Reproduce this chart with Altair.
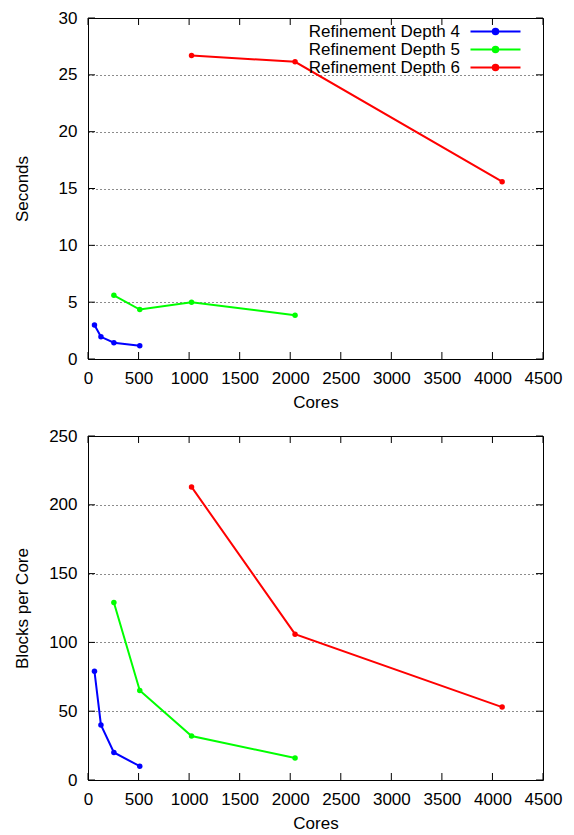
import altair as alt
import pandas as pd

series = ["Refinement Depth 4", "Refinement Depth 5", "Refinement Depth 6"]
colors = ["#0000ff", "#00ff00", "#ff0000"]

cores4 = [64, 128, 256, 512]
cores5 = [256, 512, 1024, 2048]
cores6 = [1024, 2048, 4096]

secs4 = [3.0, 1.95, 1.43, 1.16]
secs5 = [5.6, 4.35, 5.0, 3.85]
secs6 = [26.7, 26.15, 15.6]

blocks4 = [79, 40, 20, 10]
blocks5 = [129, 65, 32, 16]
blocks6 = [213, 106, 53]

x_ticks = list(range(0, 4501, 500))


def frame(cores_lists, vals_lists):
    rows = []
    for name, cs, vs in zip(series, cores_lists, vals_lists):
        for c, v in zip(cs, vs):
            rows.append({"Series": name, "Cores": c, "Value": v})
    return pd.DataFrame(rows)


FONT = "Liberation Sans"
FS = 17
TICK = 7
W = 455
SYMBOL = "M-1,0H9M3.45,0a0.55,0.55 0 1,0 1.1,0a0.55,0.55 0 1,0 -1.1,0"
NOTICK = dict(ticks=False, tickSize=0, domain=False)


def panel(df, ytitle, ymax, ystep, h):
    y_ticks = list(range(0, ymax + 1, ystep))
    xs = alt.Scale(domain=[0, 4500], nice=False, zero=False)
    ysc = alt.Scale(domain=[0, ymax], nice=False)
    cscale = alt.Scale(domain=series, range=colors)
    color = alt.Color(
        "Series:N",
        scale=cscale,
        legend=alt.Legend(
            title=None, orient="none", legendX=377, legendY=3,
            symbolType=SYMBOL, symbolSize=100, symbolStrokeWidth=2,
            labelAlign="right", labelOffset={"expr": "-24"}, labelFontSize=FS,
            labelFont=FONT, labelColor="black", rowPadding=0, padding=2,
        ),
    )
    xax = alt.Axis(
        values=x_ticks, format="d", title="Cores", grid=False,
        labelFontSize=FS, labelFont=FONT,
        labelColor="black", labelPadding=11, titleFontSize=FS, titleFont=FONT,
        titleFontWeight="normal", titleColor="black", titlePadding=8,
        labelFlush=False, labelOverlap=False, **NOTICK,
    )
    yax = alt.Axis(
        values=y_ticks, format="d", title=ytitle, grid=True, gridColor="black",
        gridDash=[1, 3], gridOpacity=0.9, labelFontSize=FS, labelFont=FONT,
        labelColor="black", labelPadding=11, titleFontSize=FS, titleFont=FONT,
        titleFontWeight="normal", titleColor="black", titlePadding=12,
        minExtent=45, maxExtent=45, labelFlush=False, labelOverlap=False,
        **NOTICK,
    )
    base = alt.Chart(df)
    lines = base.mark_line(strokeWidth=2).encode(
        x=alt.X("Cores:Q", scale=xs, axis=xax),
        y=alt.Y("Value:Q", scale=ysc, axis=yax),
        color=color,
        detail="Series:N",
    )
    pts = base.mark_point(filled=True, size=30, opacity=1).encode(
        x=alt.X("Cores:Q", scale=xs, axis=xax),
        y=alt.Y("Value:Q", scale=ysc, axis=yax),
        color=alt.Color("Series:N", scale=cscale, legend=None),
    )

    # gnuplot-style inward tick marks on all four sides of the frame
    xt = alt.Chart(pd.DataFrame({"t": x_ticks}))
    yt = alt.Chart(pd.DataFrame({"t": y_ticks}))
    tick_style = dict(size=TICK, thickness=1, color="black", opacity=1)
    xt_bottom = xt.mark_tick(orient="vertical", **tick_style).encode(
        x=alt.X("t:Q", scale=xs, axis=xax), y=alt.value(h - TICK / 2))
    xt_top = xt.mark_tick(orient="vertical", **tick_style).encode(
        x=alt.X("t:Q", scale=xs, axis=xax), y=alt.value(TICK / 2))
    yt_left = yt.mark_tick(orient="horizontal", **tick_style).encode(
        y=alt.Y("t:Q", scale=ysc, axis=yax), x=alt.value(TICK / 2))
    yt_right = yt.mark_tick(orient="horizontal", **tick_style).encode(
        y=alt.Y("t:Q", scale=ysc, axis=yax), x=alt.value(W - TICK / 2))

    return alt.layer(xt_bottom, xt_top, yt_left, yt_right, lines, pts).properties(
        width=W, height=h
    )


top = panel(frame([cores4, cores5, cores6], [secs4, secs5, secs6]), "Seconds", 30, 5, 341)
bottom = panel(frame([cores4, cores5, cores6], [blocks4, blocks5, blocks6]), "Blocks per Core", 250, 50, 344)

chart = alt.vconcat(top, bottom, spacing=15).properties(
    padding={"left": 4, "top": 0, "right": 0, "bottom": 0}
).configure_view(stroke="black", strokeWidth=1)

chart.save("out.html", embed_options={"renderer": "svg", "actions": False})
